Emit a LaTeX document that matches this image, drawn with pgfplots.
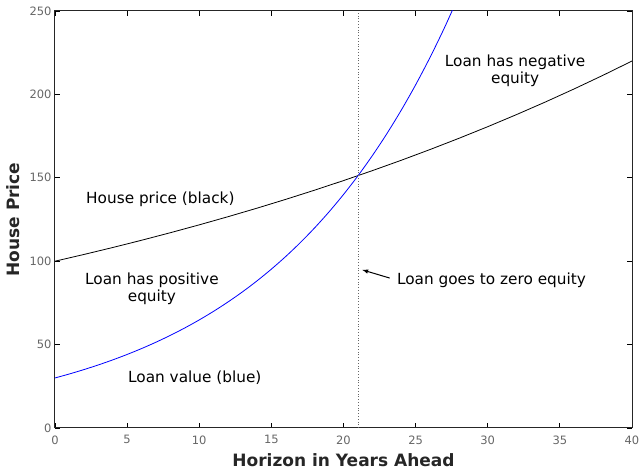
\documentclass[border=0pt]{standalone}
\usepackage{pgfplots}
\pgfplotsset{compat=1.18}
\usepackage{fontspec}
\setmainfont{DejaVu Sans}
\newfontfamily\annfont{DejaVu Sans}
\begin{document}
\begin{tikzpicture}[x=1pt,y=1pt]
\path[use as bounding box] (-55,-45) rectangle (585,428);
\begin{axis}[
  at={(0,0)}, anchor=south west,
  scale only axis,
  width=577pt, height=417pt,
  xmin=0, xmax=40, ymin=0, ymax=250,
  xtick={0,5,...,40}, ytick={0,50,...,250},
  tick align=inside,
  tick style={black, line width=0.8pt},
  major tick length=5pt,
  axis line style={line width=1pt, black!85},
  tick label style={font=\fontsize{11.5}{12}\selectfont, text=black!60},
  xticklabel style={yshift=-4pt},
  /pgf/number format/assume math mode=true,
  xlabel={\bfseries Horizon in Years Ahead},
  ylabel={\bfseries House Price},
  label style={font=\fontsize{17}{19}\selectfont, text=black!85},
  xlabel style={yshift=-2pt},
  ylabel style={yshift=3pt},
  clip=true,
]
\addplot[black, line width=0.8pt] coordinates {
(0,100) (2,104.02) (4,108.20) (6,112.55) (8,117.08) (10,121.79) (12,126.69) (14,131.78) (16,137.08) (18,142.59) (20,148.32) (22,154.29) (24,160.49) (26,166.95) (28,173.66) (30,180.64) (32,187.91) (34,195.46) (36,203.32) (38,211.50) (40,220.00)
};
\addplot[blue, line width=0.8pt, smooth] coordinates {
(0,30) (1,32.40) (2,35.00) (3,37.80) (4,40.82) (5,44.09) (6,47.62) (7,51.44) (8,55.55) (9,60.00) (10,64.80) (11,69.99) (12,75.59) (13,81.64) (14,88.18) (15,95.24) (16,102.86) (17,111.10) (18,119.99) (19,129.60) (20,139.98) (21,151.18) (22,163.29) (23,176.36) (24,190.48) (25,205.73) (26,222.20) (27,239.99) (28,259.20)
};
\addplot[black!60, dotted, line width=0.8pt] coordinates {(21,0) (21,250)};
\draw[-latex, line width=1pt] (axis cs:23.2,89.9) -- (axis cs:21.3,94.8);
\node[anchor=west, font=\annfont\fontsize{15.3}{17}\selectfont, inner sep=0pt] at (axis cs:23.7,88.5) {Loan goes to zero equity};
\node[anchor=west, font=\annfont\fontsize{15.3}{17}\selectfont, inner sep=0pt] at (axis cs:2.15,137.3) {House price (black)};
\node[align=center, font=\annfont\fontsize{15.3}{17}\selectfont, inner sep=0pt] at (axis cs:6.72,83.5) {Loan has positive\\equity};
\node[anchor=west, font=\annfont\fontsize{15.3}{17}\selectfont, inner sep=0pt] at (axis cs:5.06,30) {Loan value (blue)};
\node[align=center, font=\annfont\fontsize{15.3}{17}\selectfont, inner sep=0pt] at (axis cs:31.9,214) {Loan has negative\\equity};
\end{axis}
\end{tikzpicture}
\end{document}
